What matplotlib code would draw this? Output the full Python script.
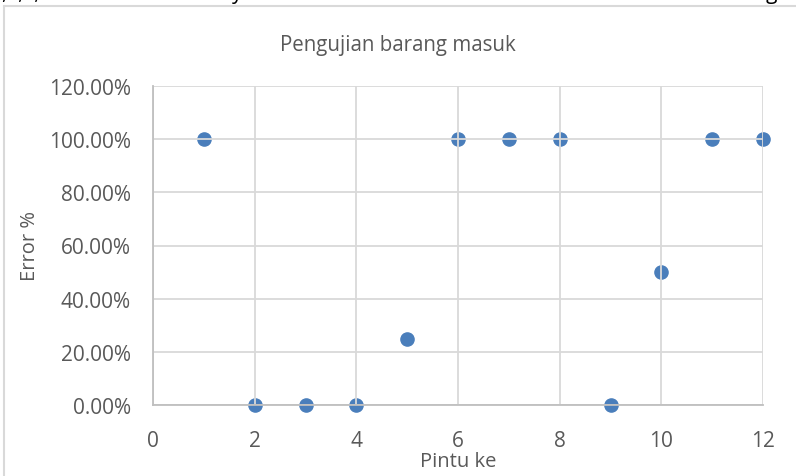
import matplotlib
matplotlib.use("Agg")
import matplotlib.pyplot as plt
from matplotlib.lines import Line2D
from matplotlib.ticker import FuncFormatter

# Data pengujian barang masuk
pintu = [1, 2, 3, 4, 5, 6, 7, 8, 9, 10, 11, 12]
error_persen = [100, 0, 0, 0, 25, 100, 100, 100, 0, 50, 100, 100]
x_ticks = [0, 2, 4, 6, 8, 10, 12]
y_ticks = [0, 20, 40, 60, 80, 100, 120]

W, H = 796, 477
plt.rcParams["font.family"] = ["Open Sans", "DejaVu Sans"]

fig = plt.figure(figsize=(W / 100, H / 100), dpi=100)
ax = fig.add_axes([153 / W, 1 - 406 / H, (763 - 153) / W, (406 - 87) / H])

ax.scatter(pintu, error_persen, s=90, color="#4a7ebb", zorder=2, clip_on=False)

ax.set_xlim(0, 12)
ax.set_ylim(0, 120)
ax.set_xticks(x_ticks)
ax.set_yticks(y_ticks)
ax.yaxis.set_major_formatter(FuncFormatter(lambda v, p: f"{v:.2f}%"))
ax.tick_params(length=0, labelsize=15, colors="#595959", pad=18)
ax.tick_params(axis="y", pad=16)

ax.grid(True, color="#d9d9d9", linewidth=1.3, zorder=3)
ax.set_axisbelow(False)
for s in ["top", "right"]:
    ax.spines[s].set_visible(False)
for s in ["left", "bottom"]:
    ax.spines[s].set_color("#bfbfbf")
    ax.spines[s].set_linewidth(1.3)
    ax.spines[s].set_zorder(3)

ax.set_xlabel("Pintu ke", fontsize=14.5, color="#595959", labelpad=0)
ax.set_ylabel("Error %", fontsize=14.5, color="#595959", labelpad=6)
fig.text(0.5, 1 - 45 / H, "Pengujian barang masuk", ha="center", va="center",
         fontsize=14.8, color="#595959")

# bingkai chart dan sisa teks dokumen di atas
fig.add_artist(Line2D([4 / W, 1], [1 - 7 / H, 1 - 7 / H], color="#d9d9d9", linewidth=1.5))
fig.add_artist(Line2D([4 / W, 4 / W], [0, 1 - 7 / H], color="#d9d9d9", linewidth=1.5))
for xt, t in [(2 / W, ",  ,  ,"), (232 / W, "y"), (766 / W, "g")]:
    fig.text(xt, 1 + 1 / H, t, ha="left", va="baseline", fontsize=15, color="black")

fig.savefig("out.png", dpi=100)
